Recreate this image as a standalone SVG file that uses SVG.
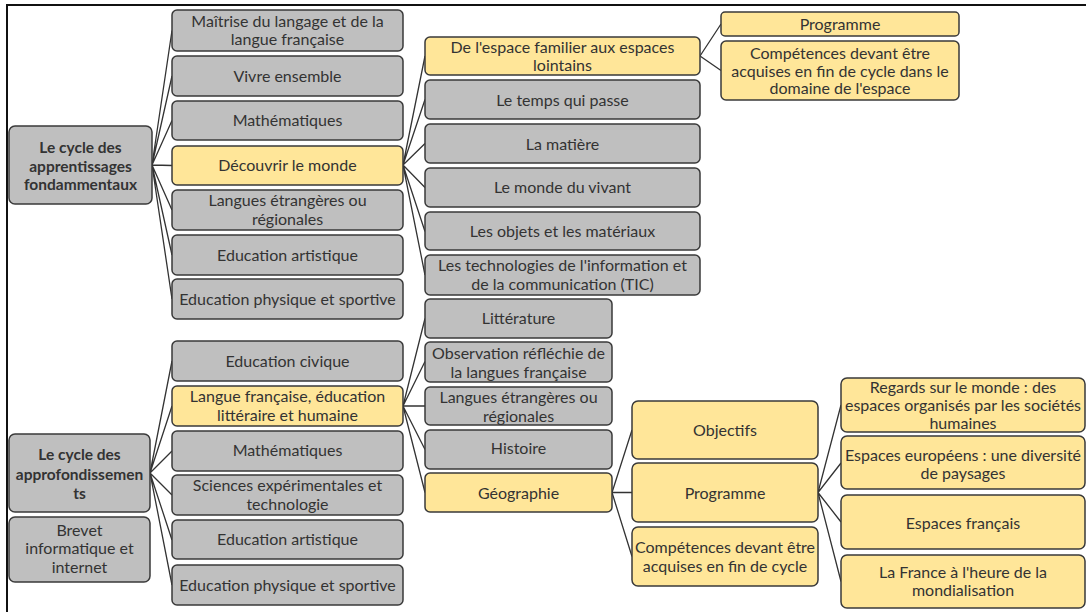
<svg xmlns="http://www.w3.org/2000/svg" width="1086" height="612" viewBox="0 0 1086 612">
<style>
.g{fill:#bfbfbf;stroke:#3a3a3a;stroke-width:1.5}
.y{fill:#ffe699;stroke:#3a3a3a;stroke-width:1.5}
text{font-family:Lato,"Open Sans","Liberation Sans",sans-serif;font-size:16px;fill:#333;text-anchor:middle}
.b{font-weight:bold;font-size:15.5px}
#connectors path{fill:none;stroke:#333;stroke-width:1.3}
</style>
<rect x="0" y="0" width="1086" height="612" fill="#fff"/>
<path d="M7 612V5H1086" fill="none" stroke="#111" stroke-width="2"/>
<g id="connectors">
<path d="M152 165L172 30.5M152 165L172 76M152 165L172 120.5M152 165L172 165.5M152 165L172 210M152 165L172 255M152 165L172 299"/>
<path d="M403 165L425 56M403 165L425 99.5M403 165L425 143.5M403 165L425 187.5M403 165L425 231.5M403 165L425 275"/>
<path d="M700 56L721 24M700 56L721 70.5"/>
<path d="M150 473L172 361M150 473L172 406M150 473L172 451M150 473L172 495M150 473L172 540M150 473L172 585"/>
<path d="M403 406L425 318.5M403 406L425 361.5M403 406L425 406M403 406L425 449.5M403 406L425 492.5"/>
<path d="M612 492.5L632 430M612 492.5L632 492.5M612 492.5L632 556.5"/>
<path d="M818 492.5L841 405M818 492.5L841 463M818 492.5L841 522M818 492.5L841 581.5"/>
</g>
<g id="r1"><rect class="g" x="9" y="126" width="143" height="78" rx="6"/><text class="b" x="80.5" y="153">Le cycle des</text><text class="b" x="80.5" y="172">apprentissages</text><text class="b" x="80.5" y="190">fondammentaux</text></g>
<g id="r2"><rect class="g" x="9" y="434" width="141" height="78" rx="6"/><text class="b" x="79.5" y="460">Le cycle des</text><text class="b" x="79.5" y="480">approfondissemen</text><text class="b" x="79.5" y="499">ts</text></g>
<g id="brevet"><rect class="g" x="9" y="517" width="141" height="65" rx="6"/><text x="79.5" y="536">Brevet</text><text x="79.5" y="554">informatique et</text><text x="79.5" y="573">internet</text></g>
<g id="a1"><rect class="g" x="172" y="10" width="231" height="41" rx="5"/><text x="287.5" y="27">Maîtrise du langage et de la</text><text x="287.5" y="45">langue française</text></g>
<g id="a2"><rect class="g" x="172" y="56" width="231" height="40" rx="5"/><text x="287.5" y="82">Vivre ensemble</text></g>
<g id="a3"><rect class="g" x="172" y="101" width="231" height="39" rx="5"/><text x="287.5" y="126">Mathématiques</text></g>
<g id="a4"><rect class="y" x="172" y="146" width="231" height="39" rx="5"/><text x="287.5" y="171">Découvrir le monde</text></g>
<g id="a5"><rect class="g" x="172" y="190" width="231" height="40" rx="5"/><text x="287.5" y="206">Langues étrangères ou</text><text x="287.5" y="225">régionales</text></g>
<g id="a6"><rect class="g" x="172" y="235" width="231" height="40" rx="5"/><text x="287.5" y="261">Education artistique</text></g>
<g id="a7"><rect class="g" x="172" y="279" width="231" height="40" rx="5"/><text x="287.5" y="305">Education physique  et sportive</text></g>
<g id="d1"><rect class="y" x="425" y="37" width="275" height="38" rx="5"/><text x="562.5" y="53">De l'espace familier aux espaces</text><text x="562.5" y="71">lointains</text></g>
<g id="d2"><rect class="g" x="425" y="80" width="275" height="39" rx="5"/><text x="562.5" y="106">Le temps qui passe</text></g>
<g id="d3"><rect class="g" x="425" y="124" width="275" height="39" rx="5"/><text x="562.5" y="150">La matière</text></g>
<g id="d4"><rect class="g" x="425" y="168" width="275" height="39" rx="5"/><text x="562.5" y="193">Le monde du vivant</text></g>
<g id="d5"><rect class="g" x="425" y="212" width="275" height="38" rx="5"/><text x="562.5" y="237">Les objets et les matériaux</text></g>
<g id="d6"><rect class="g" x="425" y="255" width="275" height="40" rx="5"/><text x="562.5" y="271">Les technologies de l'information et</text><text x="562.5" y="290">de la communication (TIC)</text></g>
<g id="e1"><rect class="y" x="721" y="12" width="238" height="24" rx="4"/><text x="840" y="29.5">Programme</text></g>
<g id="e2"><rect class="y" x="721" y="41" width="238" height="59" rx="5"/><text x="840" y="59">Compétences devant être</text><text x="840" y="76.5">acquises en fin de cycle dans le</text><text x="840" y="94">domaine de l'espace</text></g>
<g id="b1"><rect class="g" x="172" y="341" width="231" height="40" rx="5"/><text x="287.5" y="367">Education civique</text></g>
<g id="b2"><rect class="y" x="172" y="386" width="231" height="40" rx="5"/><text x="287.5" y="402">Langue française, éducation</text><text x="287.5" y="421">littéraire et humaine</text></g>
<g id="b3"><rect class="g" x="172" y="431" width="231" height="40" rx="5"/><text x="287.5" y="456">Mathématiques</text></g>
<g id="b4"><rect class="g" x="172" y="475" width="231" height="40" rx="5"/><text x="287.5" y="491">Sciences expérimentales et</text><text x="287.5" y="510">technologie</text></g>
<g id="b5"><rect class="g" x="172" y="520" width="231" height="39" rx="5"/><text x="287.5" y="545">Education artistique</text></g>
<g id="b6"><rect class="g" x="172" y="565" width="231" height="40" rx="5"/><text x="287.5" y="591">Education physique  et sportive</text></g>
<g id="c1"><rect class="g" x="425" y="299" width="187" height="39" rx="5"/><text x="518.5" y="324">Littérature</text></g>
<g id="c2"><rect class="g" x="425" y="342" width="187" height="40" rx="5"/><text x="518.5" y="359">Observation réfléchie de</text><text x="518.5" y="378">la langues française</text></g>
<g id="c3"><rect class="g" x="425" y="387" width="187" height="38" rx="5"/><text x="518.5" y="403">Langues étrangères ou</text><text x="518.5" y="422">régionales</text></g>
<g id="c4"><rect class="g" x="425" y="430" width="187" height="39" rx="5"/><text x="518.5" y="454">Histoire</text></g>
<g id="c5"><rect class="y" x="425" y="473" width="187" height="39" rx="5"/><text x="518.5" y="499">Géographie</text></g>
<g id="f1"><rect class="y" x="632" y="401" width="186" height="58" rx="6"/><text x="725" y="436">Objectifs</text></g>
<g id="f2"><rect class="y" x="632" y="463" width="186" height="59" rx="6"/><text x="725" y="499">Programme</text></g>
<g id="f3"><rect class="y" x="632" y="527" width="186" height="59" rx="6"/><text x="725" y="553">Compétences devant être</text><text x="725" y="572">acquises en fin de cycle</text></g>
<g id="h1"><rect class="y" x="841" y="378" width="244" height="54" rx="6"/><text x="963" y="393">Regards sur le monde : des</text><text x="963" y="411">espaces organisés par les sociétés</text><text x="963" y="429">humaines</text></g>
<g id="h2"><rect class="y" x="841" y="436" width="244" height="53" rx="6"/><text x="963" y="461">Espaces européens  : une diversité</text><text x="963" y="479">de paysages</text></g>
<g id="h3"><rect class="y" x="841" y="495" width="244" height="54" rx="6"/><text x="963" y="529">Espaces français</text></g>
<g id="h4"><rect class="y" x="841" y="555" width="244" height="53" rx="6"/><text x="963" y="578">La France à l'heure de la</text><text x="963" y="596">mondialisation</text></g>
</svg>
